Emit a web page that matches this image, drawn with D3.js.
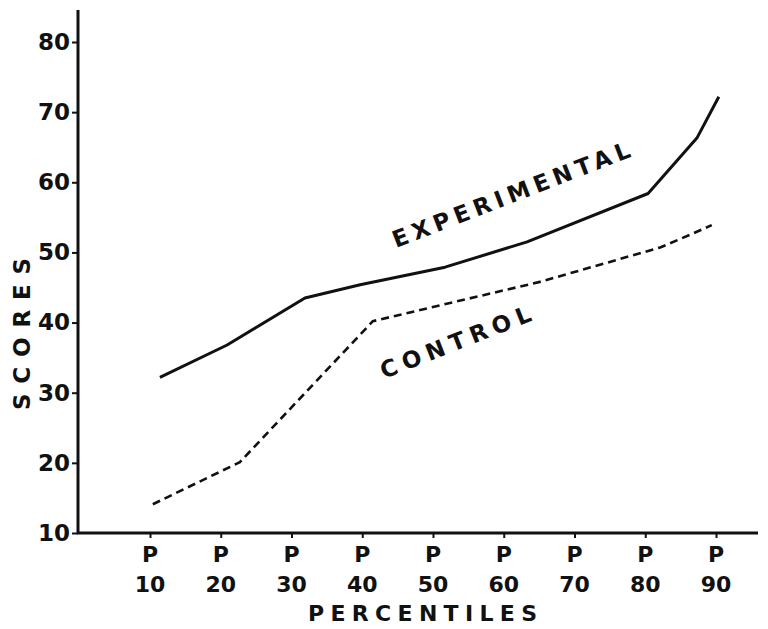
<!DOCTYPE html>
<html>
<head>
<meta charset="utf-8">
<script src="https://cdn.jsdelivr.net/npm/d3@7"></script>
<style>
  body { margin: 0; background: #fff; }
  text { font-family: "DejaVu Sans", sans-serif; font-weight: bold; fill: #111; }
</style>
</head>
<body>
<script>
// percentile ticks and the two curves
var percentiles = [10, 20, 30, 40, 50, 60, 70, 80, 90];
var scoreTicks = [10, 20, 30, 40, 50, 60, 70, 80];

var expPct   = [11.4, 20.9, 31.9, 39.7, 51.7, 63.3, 80.4, 87.3, 90.4];
var expScore = [32.2, 36.8, 43.5, 45.4, 47.9, 51.5, 58.4, 66.3, 72.2];

var ctlPct   = [10.4, 22.7, 41.5, 65.1, 82.1, 86.3, 89.4];
var ctlScore = [14.1, 20.1, 40.2, 45.8, 50.7, 52.5, 53.9];

var width = 768, height = 629;

var x = d3.scaleLinear().domain([10, 90]).range([150, 716]);
var y = d3.scaleLinear().domain([10, 80]).range([533, 42]);

var svg = d3.select("body").append("svg")
    .attr("width", width)
    .attr("height", height);

// axes lines
svg.append("line")
    .attr("x1", 78).attr("x2", 78)
    .attr("y1", 10).attr("y2", y(10))
    .attr("stroke", "#111").attr("stroke-width", 3);
svg.append("line")
    .attr("x1", 77).attr("x2", 758)
    .attr("y1", y(10)).attr("y2", y(10))
    .attr("stroke", "#111").attr("stroke-width", 3);

// y ticks
var yAxis = svg.append("g")
    .attr("transform", "translate(78,0)")
    .call(d3.axisLeft(y).tickValues(scoreTicks).tickSize(6).tickPadding(2).tickFormat(d3.format("d")));
yAxis.select(".domain").remove();
yAxis.selectAll(".tick line").attr("stroke", "#111").attr("stroke-width", 2);
yAxis.selectAll(".tick text")
    .style("font-size", "23px")
    .attr("fill", "#111");

// x ticks, "P" over the number
var xAxis = svg.append("g")
    .attr("transform", "translate(0," + y(10) + ")")
    .call(d3.axisBottom(x).tickValues(percentiles).tickSize(5).tickFormat(""));
xAxis.select(".domain").remove();
xAxis.selectAll(".tick line").attr("stroke", "#111").attr("stroke-width", 2);

var xl = svg.append("g");
xl.selectAll("text.p")
    .data(percentiles)
    .enter().append("text")
    .attr("class", "p")
    .attr("x", function(d) { return x(d); })
    .attr("y", 562)
    .attr("text-anchor", "middle")
    .style("font-size", "22px")
    .text("P");
xl.selectAll("text.n")
    .data(percentiles)
    .enter().append("text")
    .attr("class", "n")
    .attr("x", function(d) { return x(d); })
    .attr("y", 592)
    .attr("text-anchor", "middle")
    .style("font-size", "22px")
    .text(function(d) { return d; });

// axis titles
svg.append("text")
    .attr("x", 308).attr("y", 621)
    .attr("textLength", 229).attr("lengthAdjust", "spacing")
    .style("font-size", "22px")
    .text("PERCENTILES");

svg.append("text")
    .attr("transform", "translate(30,410) rotate(-90)")
    .attr("textLength", 152).attr("lengthAdjust", "spacing")
    .style("font-size", "23px")
    .text("SCORES");

// curves
var line = d3.line()
    .x(function(d) { return x(d[0]); })
    .y(function(d) { return y(d[1]); });

var expData = d3.zip(expPct, expScore);
var ctlData = d3.zip(ctlPct, ctlScore);

svg.append("path")
    .datum(expData)
    .attr("d", line)
    .attr("fill", "none")
    .attr("stroke", "#111")
    .attr("stroke-width", 3)
    .attr("stroke-linejoin", "round");

svg.append("path")
    .datum(ctlData)
    .attr("d", line)
    .attr("fill", "none")
    .attr("stroke", "#111")
    .attr("stroke-width", 2.6)
    .attr("stroke-dasharray", "8,5");

// curve labels
svg.append("text")
    .attr("transform", "translate(396,248) rotate(-21.2)")
    .attr("textLength", 253).attr("lengthAdjust", "spacing")
    .style("font-size", "23px")
    .text("EXPERIMENTAL");

svg.append("text")
    .attr("transform", "translate(384,379) rotate(-21.5)")
    .attr("textLength", 160).attr("lengthAdjust", "spacing")
    .style("font-size", "23px")
    .text("CONTROL");
</script>
</body>
</html>
